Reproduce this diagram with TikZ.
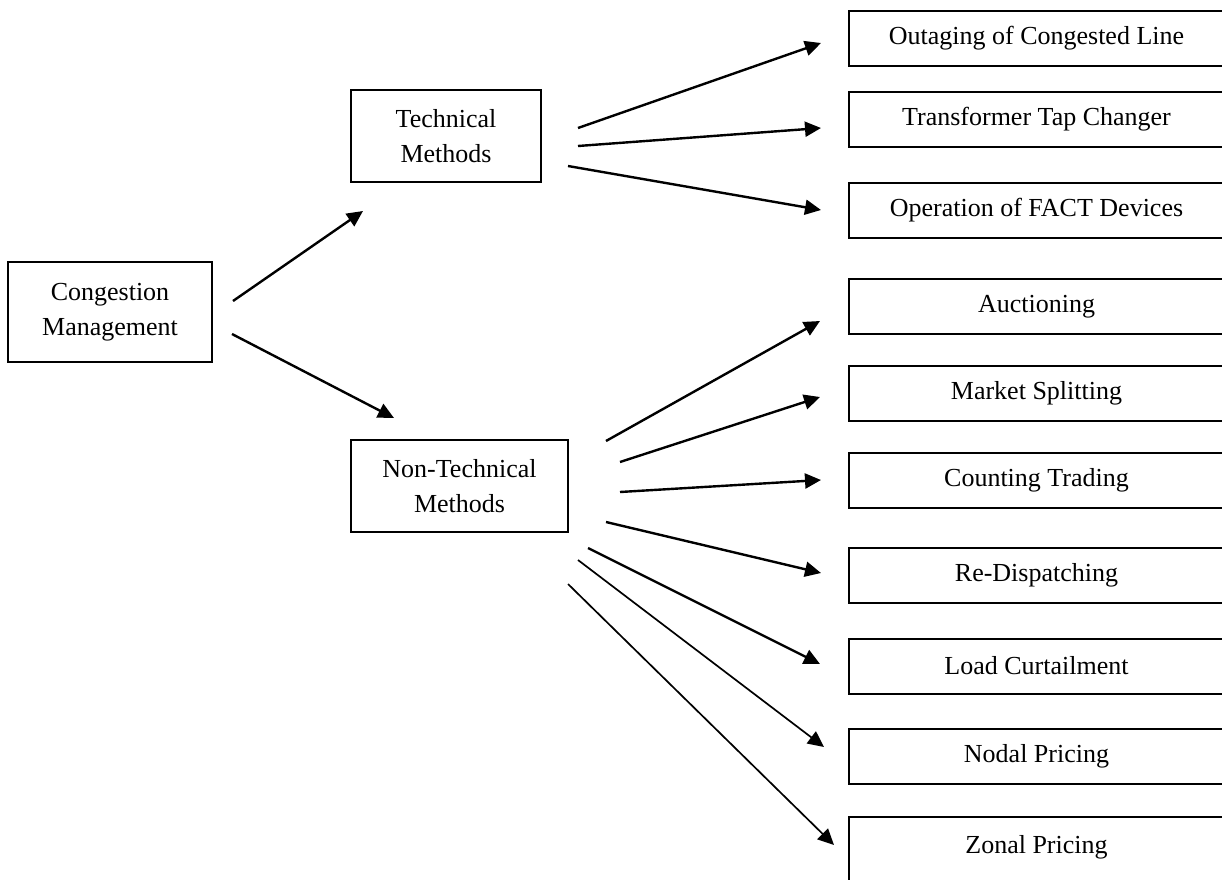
\documentclass[tikz,border=0pt]{standalone}
\usepackage{fontspec}
\setmainfont{Liberation Serif}
\usetikzlibrary{arrows.meta}
\begin{document}
\begin{tikzpicture}[x=0.5pt,y=-0.5pt,
  box/.style={draw,line width=1pt,rectangle,inner sep=0pt,align=center,
    font=\fontsize{13}{17.5}\selectfont},
  leaf/.style={box,minimum width=187.5pt,minimum height=27.5pt},
  arr/.style={line width=1.2pt,-{Triangle[length=8pt,width=7.5pt]}},
  thinarr/.style={line width=0.85pt,-{Triangle[length=8pt,width=7.5pt]}}]
\useasboundingbox (0,0) rectangle (1222,879);
\node[box,minimum width=102pt,minimum height=50pt] (cm) at (110,312) {Congestion\\Management};
\node[box,minimum width=95pt,minimum height=46pt] (tm) at (446,136) {Technical\\Methods};
\node[box,minimum width=108.5pt,minimum height=46pt] (ntm) at (459.5,486) {Non-Technical\\Methods};
\node[leaf] (out) at (1036.5,38) {Outaging of Congested Line};
\node[leaf] (ttc) at (1036.5,119) {Transformer Tap Changer};
\node[leaf] (fact) at (1036.5,210.5) {Operation of FACT Devices};
\node[leaf] (auc) at (1036.5,306.5) {Auctioning};
\node[leaf] (mks) at (1036.5,393) {Market Splitting};
\node[leaf] (cnt) at (1036.5,480) {Counting Trading};
\node[leaf] (red) at (1036.5,575) {Re-Dispatching};
\node[leaf] (lc) at (1036.5,666) {Load Curtailment};
\node[leaf] (np) at (1036.5,756) {Nodal Pricing};
\node[leaf,minimum height=35pt] (zp) at (1036.5,852) {};
\node[font=\fontsize{13}{17.5}\selectfont] (zpt) at (1036.5,847) {Zonal Pricing};
\foreach \n/\sx/\sy/\ex/\ey in {
  a1/233/301/363/211, a2/232/334/394/418,
  t1/578/128/821/43, t2/578/146/821/128, t3/568/166/821/210,
  n1/606/441/820/321, n2/620/462/820/397, n3/620/492/821/480,
  n4/606/522/821/573, n5/588/548/820/664}{
  \coordinate (\n-s) at (\sx,\sy);
  \coordinate (\n-e) at (\ex,\ey);
  \draw[arr] (\n-s) -- (\n-e);
}
\foreach \n/\sx/\sy/\ex/\ey in {n6/578/560/824/747, n7/568/584/834/845}{
  \coordinate (\n-s) at (\sx,\sy);
  \coordinate (\n-e) at (\ex,\ey);
  \draw[thinarr] (\n-s) -- (\n-e);
}
\end{tikzpicture}
\end{document}
